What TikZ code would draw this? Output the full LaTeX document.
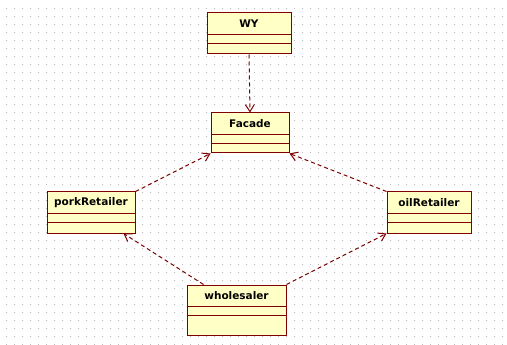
\documentclass[tikz,border=0pt]{standalone}
\usepackage{fontspec}
\setmainfont{DejaVu Sans}
\usetikzlibrary{arrows.meta,calc}

\definecolor{gridgray}{RGB}{185,185,185}
\definecolor{classfill}{RGB}{255,255,198}
\definecolor{classedge}{RGB}{128,0,0}

\tikzset{
  classbox/.style={draw=classedge, fill=classfill, line width=1pt,
    rectangle, inner sep=0pt, anchor=north west},
  classline/.style={draw=classedge, line width=1pt},
  classname/.style={inner sep=0pt, text=black,
    font=\bfseries\fontsize{10.5}{12}\selectfont},
  depend/.style={draw=classedge, line width=1pt,
    dash pattern=on 4pt off 3pt,
    -{Straight Barb[length=7pt,width=9pt,line width=1pt]}},
}

% \umlclass{name}{x1}{y1}{x2}{y2}{title}: class box with name and two empty compartments
\newcommand\umlclass[6]{%
  \node[classbox, minimum width=#4pt-#2pt, minimum height=#5pt-#3pt] (#1) at (#2,#3) {};
  \node[classname] (#1-title) at ([yshift=-11pt]#1.north) {#6};
  \draw[classline] ([yshift=-22pt]#1.north west) -- ([yshift=-22pt]#1.north east);
  \draw[classline] ([yshift=-31pt]#1.north west) -- ([yshift=-31pt]#1.north east);
}

\begin{document}
\begin{tikzpicture}[x=1pt,y=-1pt]
  \useasboundingbox (0,0) rectangle (507,345);
  \fill[white] (0,0) rectangle (507,345);

  % dotted drawing grid
  \foreach \i in {0,...,62}{
    \foreach \j in {0,...,42}{
      \fill[gridgray] (6+8*\i, 8+8*\j) rectangle ++(1,1);
    }
  }

  \umlclass{wy}{206.5}{12.5}{290.5}{53.5}{WY}
  \umlclass{facade}{210.5}{112.5}{288.5}{152.5}{Facade}
  \umlclass{pork}{46.5}{191.5}{134.5}{232.5}{porkRetailer}
  \umlclass{oil}{386.5}{191.5}{470.5}{232.5}{oilRetailer}
  \umlclass{wholesaler}{186.5}{284.5}{285.5}{334.5}{wholesaler}

  \coordinate (wsl-start) at ([xshift=17pt]wholesaler.north west);
  \coordinate (pork-end) at ([xshift=-12pt]pork.south east);

  \draw[depend] (wy.south) -- (facade.north);
  \draw[depend] (pork.north east) -- (facade.south west);
  \draw[depend] (oil.north west) -- (facade.south east);
  \draw[depend] (wsl-start) -- (pork-end);
  \draw[depend] (wholesaler.north east) -- (oil.south west);
\end{tikzpicture}
\end{document}
